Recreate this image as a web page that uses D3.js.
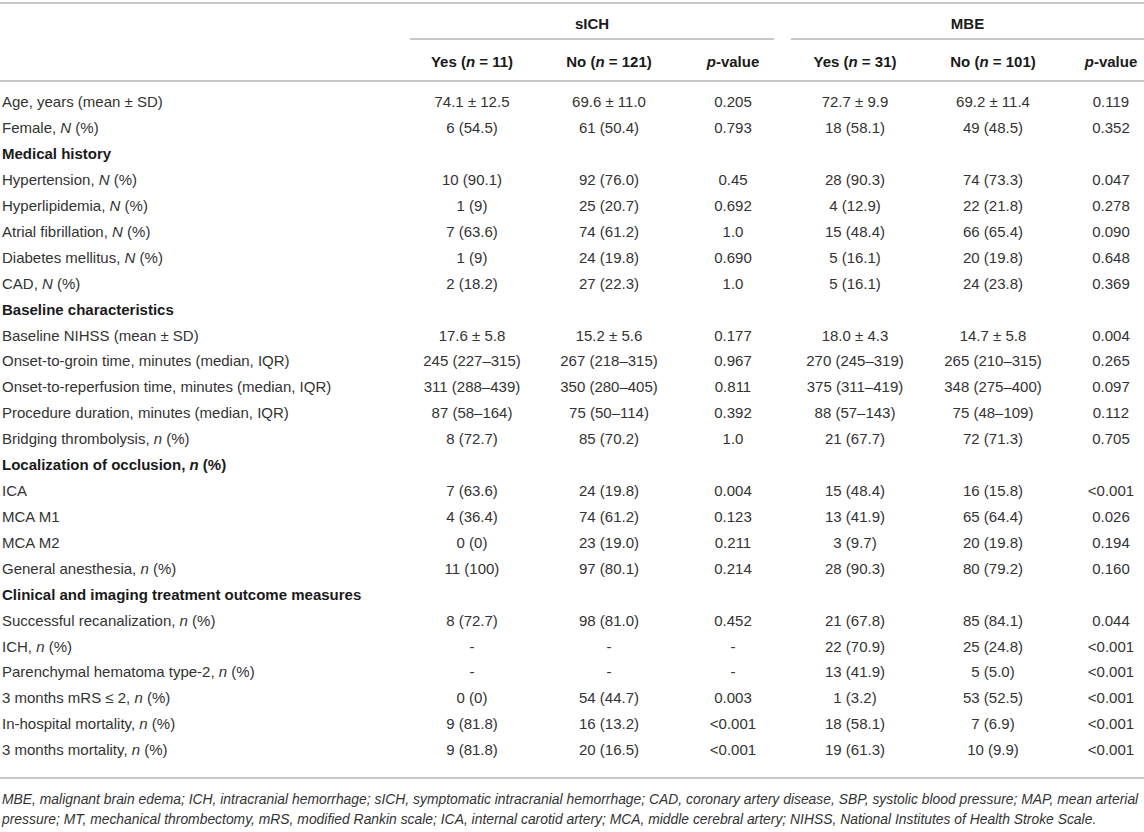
<!DOCTYPE html>
<html>
<head>
<meta charset="utf-8">
<script src="https://cdn.jsdelivr.net/npm/d3@7"></script>
<style>
  body { margin: 0; background: #fff; }
  svg { display: block; font-family: "Liberation Sans", Arial, sans-serif; }
</style>
</head>
<body>
<div id="chart"></div>
<script>
// table content, *x* marks italic runs, # marks a section row
const groupHeads = ['sICH', 'MBE'];
const columnHeads = ['Yes (*n* = 11)', 'No (*n* = 121)', '*p*-value', 'Yes (*n* = 31)', 'No (*n* = 101)', '*p*-value'];

const rowLabels = [
  'Age, years (mean ± SD)',
  'Female, *N* (%)',
  '#Medical history',
  'Hypertension, *N* (%)',
  'Hyperlipidemia, *N* (%)',
  'Atrial fibrillation, *N* (%)',
  'Diabetes mellitus, *N* (%)',
  'CAD, *N* (%)',
  '#Baseline characteristics',
  'Baseline NIHSS (mean ± SD)',
  'Onset-to-groin time, minutes (median, IQR)',
  'Onset-to-reperfusion time, minutes (median, IQR)',
  'Procedure duration, minutes (median, IQR)',
  'Bridging thrombolysis, *n* (%)',
  '#Localization of occlusion, *n* (%)',
  'ICA',
  'MCA M1',
  'MCA M2',
  'General anesthesia, *n* (%)',
  '#Clinical and imaging treatment outcome measures',
  'Successful recanalization, *n* (%)',
  'ICH, *n* (%)',
  'Parenchymal hematoma type-2, *n* (%)',
  '3 months mRS ≤ 2, *n* (%)',
  'In-hospital mortality, *n* (%)',
  '3 months mortality, *n* (%)'
];

const ichYes = ['74.1 ± 12.5', '6 (54.5)', null, '10 (90.1)', '1 (9)', '7 (63.6)', '1 (9)', '2 (18.2)', null,
  '17.6 ± 5.8', '245 (227–315)', '311 (288–439)', '87 (58–164)', '8 (72.7)', null,
  '7 (63.6)', '4 (36.4)', '0 (0)', '11 (100)', null,
  '8 (72.7)', '-', '-', '0 (0)', '9 (81.8)', '9 (81.8)'];
const ichNo = ['69.6 ± 11.0', '61 (50.4)', null, '92 (76.0)', '25 (20.7)', '74 (61.2)', '24 (19.8)', '27 (22.3)', null,
  '15.2 ± 5.6', '267 (218–315)', '350 (280–405)', '75 (50–114)', '85 (70.2)', null,
  '24 (19.8)', '74 (61.2)', '23 (19.0)', '97 (80.1)', null,
  '98 (81.0)', '-', '-', '54 (44.7)', '16 (13.2)', '20 (16.5)'];
const ichP = ['0.205', '0.793', null, '0.45', '0.692', '1.0', '0.690', '1.0', null,
  '0.177', '0.967', '0.811', '0.392', '1.0', null,
  '0.004', '0.123', '0.211', '0.214', null,
  '0.452', '-', '-', '0.003', '<0.001', '<0.001'];
const mbeYes = ['72.7 ± 9.9', '18 (58.1)', null, '28 (90.3)', '4 (12.9)', '15 (48.4)', '5 (16.1)', '5 (16.1)', null,
  '18.0 ± 4.3', '270 (245–319)', '375 (311–419)', '88 (57–143)', '21 (67.7)', null,
  '15 (48.4)', '13 (41.9)', '3 (9.7)', '28 (90.3)', null,
  '21 (67.8)', '22 (70.9)', '13 (41.9)', '1 (3.2)', '18 (58.1)', '19 (61.3)'];
const mbeNo = ['69.2 ± 11.4', '49 (48.5)', null, '74 (73.3)', '22 (21.8)', '66 (65.4)', '20 (19.8)', '24 (23.8)', null,
  '14.7 ± 5.8', '265 (210–315)', '348 (275–400)', '75 (48–109)', '72 (71.3)', null,
  '16 (15.8)', '65 (64.4)', '20 (19.8)', '80 (79.2)', null,
  '85 (84.1)', '25 (24.8)', '5 (5.0)', '53 (52.5)', '7 (6.9)', '10 (9.9)'];
const mbeP = ['0.119', '0.352', null, '0.047', '0.278', '0.090', '0.648', '0.369', null,
  '0.004', '0.265', '0.097', '0.112', '0.705', null,
  '<0.001', '0.026', '0.194', '0.160', null,
  '0.044', '<0.001', '<0.001', '<0.001', '<0.001', '<0.001'];

const footnotes = [
  'MBE, malignant brain edema; ICH, intracranial hemorrhage; sICH, symptomatic intracranial hemorrhage; CAD, coronary artery disease, SBP, systolic blood pressure; MAP, mean arterial',
  'pressure; MT, mechanical thrombectomy, mRS, modified Rankin scale; ICA, internal carotid artery; MCA, middle cerebral artery; NIHSS, National Institutes of Health Stroke Scale.'
];

const w = 1144;
const h = 832;
const fontSize = 15;
const columns = [ichYes, ichNo, ichP, mbeYes, mbeNo, mbeP];

const svg = d3.select('#chart').append('svg')
  .attr('width', w)
  .attr('height', h);

// column centres and row centres
const x = d3.scaleOrdinal()
  .domain(d3.range(columns.length))
  .range([472, 609, 733, 855, 993, 1111]);
const y = d3.scaleLinear()
  .domain([0, rowLabels.length - 1])
  .range([102, 750]);

const groupSpan = [[410, 774], [791, w]];

const ruleColor = '#b4b4b4';
const textColor = '#333';
const headColor = '#1a1a1a';

// split "*x*" markup into tspans
function rich (sel, str) {
  str.split('*').forEach((part, i) => {
    if (!part) return;
    sel.append('tspan')
      .style('font-style', i % 2 ? 'italic' : null)
      .text(part);
  });
}

function hline (y0, x0 = 0, x1 = w) {
  svg.append('line')
    .attr('x1', x0).attr('x2', x1)
    .attr('y1', y0).attr('y2', y0)
    .attr('stroke', ruleColor)
    .attr('stroke-width', 1.5);
}

// rules
hline(3);
groupSpan.forEach(s => hline(39, s[0], s[1]));
hline(81);
const lastY = y(rowLabels.length - 1);
hline(lastY + 28);

// group heads
svg.selectAll('.group')
  .data(groupHeads)
  .enter()
  .append('text')
    .attr('class', 'group')
    .attr('x', (d, i) => (groupSpan[i][0] + groupSpan[i][1]) / 2)
    .attr('y', 24)
    .attr('dy', '0.35em')
    .attr('text-anchor', 'middle')
    .attr('font-size', fontSize)
    .attr('font-weight', 'bold')
    .attr('fill', headColor)
    .text(d => d);

// column heads
svg.selectAll('.colhead')
  .data(columnHeads)
  .enter()
  .append('text')
    .attr('class', 'colhead')
    .attr('x', (d, i) => x(i))
    .attr('y', 62)
    .attr('dy', '0.35em')
    .attr('text-anchor', 'middle')
    .attr('font-size', fontSize)
    .attr('font-weight', 'bold')
    .attr('fill', headColor)
    .each(function (d) { rich(d3.select(this), d); });

// row labels
svg.selectAll('.label')
  .data(rowLabels)
  .enter()
  .append('text')
    .attr('class', 'label')
    .attr('x', 2)
    .attr('y', (d, i) => y(i))
    .attr('dy', '0.35em')
    .attr('font-size', fontSize)
    .attr('font-weight', d => d[0] === '#' ? 'bold' : null)
    .attr('fill', d => d[0] === '#' ? headColor : textColor)
    .each(function (d) { rich(d3.select(this), d.replace(/^#/, '')); });

// cells
columns.forEach((col, c) => {
  svg.append('g')
    .selectAll('text')
    .data(col.map((v, i) => ({ v, i })).filter(d => d.v !== null))
    .enter()
    .append('text')
      .attr('x', x(c))
      .attr('y', d => y(d.i))
      .attr('dy', '0.35em')
      .attr('text-anchor', 'middle')
      .attr('font-size', fontSize)
      .attr('fill', textColor)
      .text(d => d.v);
});

// footnotes, sized so the first line fills the width
const notes = svg.selectAll('.note')
  .data(footnotes)
  .enter()
  .append('text')
    .attr('class', 'note')
    .attr('x', 2)
    .attr('y', (d, i) => lastY + 49 + i * 20)
    .attr('dy', '0.35em')
    .attr('font-size', 13)
    .attr('font-style', 'italic')
    .attr('fill', textColor)
    .text(d => d);

const natural = notes.node().getComputedTextLength();
notes.attr('font-size', 13 * 1138 / natural);
</script>
</body>
</html>
